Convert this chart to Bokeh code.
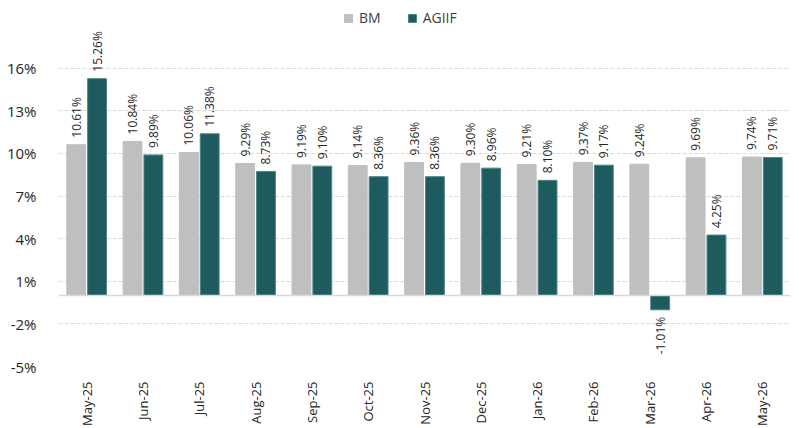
from bokeh.plotting import figure
from bokeh.models import (ColumnDataSource, FactorRange, Range1d, FixedTicker, PrintfTickFormatter,
                          Span, Legend, LegendItem)
from bokeh.transform import dodge
from bokeh.core.properties import value
from bokeh.embed import file_html
from bokeh.resources import INLINE
import math

months = ["May-25", "Jun-25", "Jul-25", "Aug-25", "Sep-25", "Oct-25", "Nov-25",
          "Dec-25", "Jan-26", "Feb-26", "Mar-26", "Apr-26", "May-26"]
bm = [10.61, 10.84, 10.06, 9.29, 9.19, 9.14, 9.36, 9.30, 9.21, 9.37, 9.24, 9.69, 9.74]
agiif = [15.26, 9.89, 11.38, 8.73, 9.10, 8.36, 8.36, 8.96, 8.10, 9.17, -1.01, 4.25, 9.71]
y_ticks = [-5, -2, 1, 4, 7, 10, 13, 16]
series_names = ["BM", "AGIIF"]

GRAY = "#BFBFBF"
TEAL = "#1E5B5E"

src = ColumnDataSource(dict(
    m=months, bm=bm, agiif=agiif,
    bm_lbl=["%.2f%%" % v for v in bm],
))
pos = [i for i, v in enumerate(agiif) if v >= 0]
neg = [i for i, v in enumerate(agiif) if v < 0]
src_pos = ColumnDataSource(dict(m=[months[i] for i in pos], v=[agiif[i] for i in pos],
                                l=["%.2f%%" % agiif[i] for i in pos]))
src_neg = ColumnDataSource(dict(m=[months[i] for i in neg], v=[agiif[i] for i in neg],
                                l=["%.2f%%" % agiif[i] for i in neg]))

p = figure(width=799, height=428, output_backend="svg", toolbar_location=None,
           x_range=FactorRange(*months, range_padding=0), y_range=Range1d(-5, 20.76),
           min_border_left=58, min_border_right=9, min_border_top=0, min_border_bottom=60)
p.x_range.factor_padding = 0
p.outline_line_color = None
p.background_fill_color = "white"

OFF = 0.185
W = 0.335
r1 = p.vbar(x=dodge("m", -OFF, range=p.x_range), top="bm", bottom=0, width=W, source=src,
            fill_color=GRAY, line_color=GRAY)
r2 = p.vbar(x=dodge("m", OFF, range=p.x_range), top="agiif", bottom=0, width=W, source=src,
            fill_color=TEAL, line_color="#4F8587", line_width=1)

lbl_font = value("Open Sans")
p.text(x=dodge("m", -OFF, range=p.x_range), y="bm", text="bm_lbl", source=src, angle=math.pi / 2,
       text_align="left", text_baseline="middle", y_offset=-7, text_font=lbl_font,
       text_font_size="12px", text_color="#262626")
p.text(x=dodge("m", OFF, range=p.x_range), y="v", text="l", source=src_pos, angle=math.pi / 2,
       text_align="left", text_baseline="middle", y_offset=-7, text_font=lbl_font,
       text_font_size="12px", text_color="#262626")
p.text(x=dodge("m", OFF, range=p.x_range), y="v", text="l", source=src_neg, angle=math.pi / 2,
       text_align="right", text_baseline="middle", y_offset=7, text_font=lbl_font,
       text_font_size="12px", text_color="#262626")

p.add_layout(Span(location=0, dimension="width", line_color="#D9D9D9", line_width=1.5))

p.xgrid.grid_line_color = None
p.ygrid.grid_line_color = "#D9D9D9"
p.ygrid.grid_line_dash = "4 2"
p.ygrid.grid_line_width = 1

p.yaxis.ticker = FixedTicker(ticks=y_ticks)
p.yaxis.formatter = PrintfTickFormatter(format="%d%%")
p.yaxis.axis_line_color = None
p.yaxis.major_tick_line_color = None
p.yaxis.minor_tick_line_color = None
p.yaxis.major_label_text_font = "Open Sans"
p.yaxis.major_label_text_font_size = "15px"
p.yaxis.major_label_text_color = "#262626"
p.yaxis.major_label_standoff = 16

p.xaxis.axis_line_color = None
p.xaxis.major_tick_line_color = None
p.xaxis.minor_tick_line_color = None
p.xaxis.major_label_orientation = math.pi / 2
p.xaxis.major_label_text_font = "Open Sans"
p.xaxis.major_label_text_font_size = "13px"
p.xaxis.major_label_text_color = "#262626"
p.xaxis.major_label_standoff = 9

legend = Legend(items=[LegendItem(label=series_names[0], renderers=[r1]),
                       LegendItem(label=series_names[1], renderers=[r2])],
                orientation="horizontal", location=(285, 339),
                glyph_width=10, glyph_height=10, label_standoff=6, spacing=26,
                padding=0, margin=0, border_line_color=None, background_fill_alpha=0,
                label_text_font="Open Sans", label_text_font_size="14px",
                label_text_color="#404040")
p.add_layout(legend)

open("out.html", "w").write(file_html(p, INLINE))
